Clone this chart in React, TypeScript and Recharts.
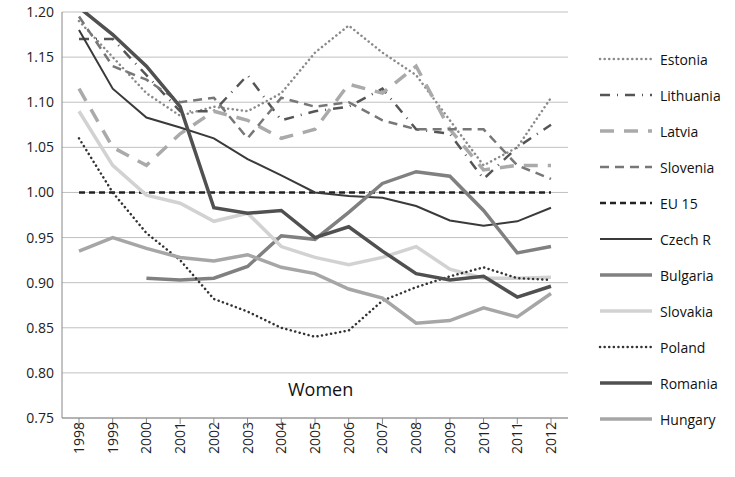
import { LineChart, Line, XAxis, YAxis, CartesianGrid } from 'recharts';

const years = ['1998', '1999', '2000', '2001', '2002', '2003', '2004', '2005', '2006', '2007', '2008', '2009', '2010', '2011', '2012'];

const estonia = [1.19, 1.15, 1.11, 1.085, 1.095, 1.09, 1.11, 1.155, 1.185, 1.155, 1.13, 1.08, 1.03, 1.05, 1.105];
const lithuania = [1.17, 1.17, 1.13, 1.09, 1.09, 1.13, 1.08, 1.09, 1.095, 1.115, 1.07, 1.065, 1.015, 1.05, 1.075];
const latvia = [1.115, 1.05, 1.03, 1.065, 1.09, 1.08, 1.06, 1.07, 1.12, 1.11, 1.14, 1.07, 1.025, 1.03, 1.03];
const slovenia = [1.195, 1.14, 1.125, 1.1, 1.105, 1.06, 1.105, 1.095, 1.1, 1.08, 1.07, 1.07, 1.07, 1.03, 1.015];
const eu15 = [1, 1, 1, 1, 1, 1, 1, 1, 1, 1, 1, 1, 1, 1, 1];
const czech = [1.18, 1.115, 1.083, 1.072, 1.06, 1.037, 1.019, 1.0, 0.996, 0.994, 0.985, 0.969, 0.963, 0.968, 0.983];
const bulgaria = [null, null, 0.905, 0.903, 0.905, 0.918, 0.952, 0.948, 0.978, 1.01, 1.023, 1.018, 0.98, 0.933, 0.94];
const slovakia = [1.09, 1.03, 0.997, 0.988, 0.968, 0.977, 0.94, 0.928, 0.92, 0.928, 0.94, 0.915, 0.905, 0.905, 0.906];
const poland = [1.06, 1.0, 0.955, 0.925, 0.882, 0.868, 0.85, 0.84, 0.847, 0.88, 0.895, 0.907, 0.917, 0.905, 0.903];
const romania = [1.205, 1.175, 1.14, 1.095, 0.983, 0.977, 0.98, 0.95, 0.962, 0.935, 0.91, 0.903, 0.907, 0.884, 0.896];
const hungary = [0.935, 0.95, 0.938, 0.928, 0.924, 0.931, 0.917, 0.91, 0.893, 0.883, 0.855, 0.858, 0.872, 0.862, 0.888];

const yTicks = [0.75, 0.8, 0.85, 0.9, 0.95, 1.0, 1.05, 1.1, 1.15, 1.2];

const DOT = '0.1 4.5';

const series = [
  { key: 'Estonia', values: estonia, color: '#8a8a8a', width: 2.5, dash: DOT },
  { key: 'Lithuania', values: lithuania, color: '#555555', width: 2.5, dash: '10 7 1 7' },
  { key: 'Latvia', values: latvia, color: '#aaaaaa', width: 3.5, dash: '14 10' },
  { key: 'Slovenia', values: slovenia, color: '#777777', width: 2.5, dash: '9 6' },
  { key: 'EU 15', values: eu15, color: '#222222', width: 2.5, dash: '6 4' },
  { key: 'Czech R', values: czech, color: '#3a3a3a', width: 2 },
  { key: 'Bulgaria', values: bulgaria, color: '#808080', width: 3.5 },
  { key: 'Slovakia', values: slovakia, color: '#d2d2d2', width: 3.5 },
  { key: 'Poland', values: poland, color: '#333333', width: 2.5, dash: DOT },
  { key: 'Romania', values: romania, color: '#505050', width: 3.5 },
  { key: 'Hungary', values: hungary, color: '#a6a6a6', width: 3.5 },
];

const data = years.map((year, i) => {
  const row: Record<string, any> = { year };
  series.forEach((s) => (row[s.key] = s.values[i]));
  return row;
});

const font = 'Open Sans, sans-serif';

export default function App() {
  return (
    <div style={{ position: 'fixed', left: 0, top: 0, width: 735, height: 477, background: '#fff', fontFamily: font }}>
      <LineChart width={735} height={477} data={data} margin={{ top: 12, right: 167, bottom: 0, left: 0 }}>
        <CartesianGrid vertical={false} stroke="#c0c0c0" />
        <XAxis
          dataKey="year"
          height={59}
          padding={{ left: 17, right: 17 }}
          stroke="#888"
          tick={{ fill: '#222', fontSize: 14, fontFamily: font }}
          angle={-90}
          textAnchor="end"
          dy={-4}
          dx={-5}
        />
        <YAxis
          width={62}
          domain={[0.75, 1.2]}
          ticks={yTicks}
          allowDataOverflow
          stroke="#888"
          tickLine={false}
          tick={{ fill: '#222', fontSize: 14, fontFamily: font }}
          tickFormatter={(v) => v.toFixed(2)}
        />
        {series.map((s) => (
          <Line
            key={s.key}
            dataKey={s.key}
            stroke={s.color}
            strokeWidth={s.width}
            strokeDasharray={s.dash}
            strokeLinecap={s.dash === DOT ? 'round' : 'butt'}
            dot={false}
            isAnimationActive={false}
          />
        ))}
      </LineChart>
      <div style={{ position: 'absolute', left: 288, top: 377, fontSize: 18, color: '#111' }}>Women</div>
      {series.map((s, i) => (
        <div key={s.key} style={{ position: 'absolute', left: 598, top: 49 + i * 36, height: 20, display: 'flex', alignItems: 'center' }}>
          <svg width={56} height={20}>
            <line x1={2} y1={10} x2={54} y2={10} stroke={s.color} strokeWidth={s.width} strokeDasharray={s.dash} strokeLinecap={s.dash === DOT ? 'round' : 'butt'} />
          </svg>
          <span style={{ fontSize: 14, color: '#111', marginLeft: 6 }}>{s.key}</span>
        </div>
      ))}
    </div>
  );
}
